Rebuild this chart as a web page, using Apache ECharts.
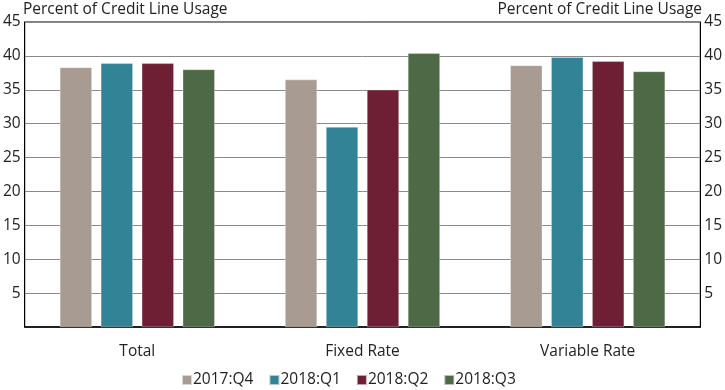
<!DOCTYPE html>
<html><head><meta charset="utf-8">
<script src="https://cdn.jsdelivr.net/npm/echarts@6/dist/echarts.min.js"></script>
<style>html,body{margin:0;padding:0;background:#fff}#c{width:725px;height:390px}</style>
</head><body><div id="c"></div>
<script>
const categories = ['Total', 'Fixed Rate', 'Variable Rate'];
const seriesNames = ['2017:Q4', '2018:Q1', '2018:Q2', '2018:Q3'];
const q4_2017 = [38.3, 36.5, 38.6];
const q1_2018 = [38.9, 29.5, 39.8];
const q2_2018 = [38.9, 35.0, 39.2];
const q3_2018 = [38.0, 40.4, 37.7];
const colors = ['#a89b91', '#338397', '#6e1f34', '#4e6945'];
const yTitle = 'Percent of Credit Line Usage';

const values = [q4_2017, q1_2018, q2_2018, q3_2018];
const font = 'Open Sans';
const fs = 15.5;
const chart = echarts.init(document.getElementById('c'));
const yAx = (pos) => ({
  type: 'value', position: pos, min: 0, max: 45, interval: 5,
  axisLine: { show: true, lineStyle: { color: '#000', width: 1 } },
  axisTick: { show: false },
  splitLine: { show: pos === 'left', lineStyle: { color: '#8a8a8a', width: 1 } },
  axisLabel: { color: '#222', fontSize: fs, fontFamily: font, margin: 4,
    formatter: v => v === 0 ? '' : String(v) }
});
chart.setOption({
  animation: false,
  color: colors,
  title: [
    { text: yTitle, left: 18, top: -3, textStyle: { fontSize: fs, fontWeight: 'normal', color: '#222', fontFamily: font } },
    { text: yTitle, right: 18, top: -3, textStyle: { fontSize: fs, fontWeight: 'normal', color: '#222', fontFamily: font } }
  ],
  grid: { left: 23, right: 18, top: 22, bottom: 63, show: true, borderColor: '#000', borderWidth: 1 },
  legend: {
    bottom: -3, left: 176, itemWidth: 10, itemHeight: 10, itemGap: 15,
    icon: 'rect',
    textStyle: { fontSize: fs, color: '#222', fontFamily: font, padding: [0, 0, 0, -4] },
    data: seriesNames
  },
  xAxis: {
    type: 'category', data: categories,
    axisLine: { show: true, lineStyle: { color: '#000', width: 1.5 } },
    axisTick: { show: false },
    axisLabel: { color: '#222', fontSize: fs, fontFamily: font, margin: 17 }
  },
  yAxis: [yAx('left'), yAx('right')],
  series: seriesNames.map((n, i) => ({
    name: n, type: 'bar', data: values[i], yAxisIndex: 0,
    barWidth: 32, barGap: '28%',
    itemStyle: { color: colors[i], borderColor: 'rgba(255,255,255,0.6)', borderWidth: 0.5 }
  }))
});
</script></body></html>
